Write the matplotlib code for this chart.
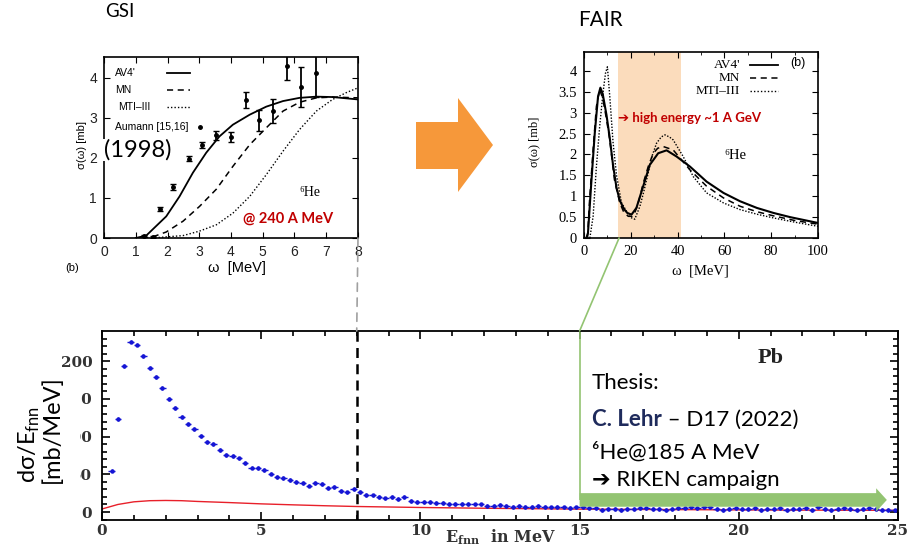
import numpy as np
import matplotlib
matplotlib.use("Agg")
import matplotlib.pyplot as plt
from matplotlib.patches import ConnectionPatch, Polygon, Rectangle

W, H = 917, 551

# ---- GSI panel: sigma(omega) in mb vs omega in MeV ----
gsi_av4_w = [1.0, 1.33, 1.96, 2.38, 2.8, 3.22, 3.64, 4.06, 4.59, 5.11, 5.64, 6.16, 6.69, 7.2, 8.0]
gsi_av4_s = [0.0, 0.06, 0.54, 1.04, 1.63, 2.13, 2.54, 2.83, 3.08, 3.28, 3.42, 3.5, 3.53, 3.52, 3.46]
gsi_mn_w = [1.2, 1.54, 1.96, 2.49, 3.01, 3.54, 4.06, 4.59, 5.11, 5.64, 6.16, 6.69, 7.2, 8.0]
gsi_mn_s = [0.0, 0.03, 0.15, 0.42, 0.79, 1.22, 1.79, 2.33, 2.75, 3.17, 3.39, 3.5, 3.52, 3.5]
gsi_mti_w = [1.5, 2.49, 3.0, 3.54, 4.06, 4.59, 5.11, 5.64, 6.16, 6.69, 7.2, 7.63, 8.0]
gsi_mti_s = [0.0, 0.06, 0.17, 0.33, 0.62, 1.04, 1.58, 2.17, 2.71, 3.17, 3.46, 3.63, 3.75]
aumann_w = [1.25, 1.55, 1.75, 2.17, 2.68, 3.09, 3.54, 3.99, 4.46, 4.88, 5.32, 5.77, 6.22, 6.69]
aumann_s = [0.05, 0.02, 0.73, 1.27, 1.98, 2.32, 2.56, 2.52, 3.44, 2.94, 3.17, 4.29, 3.78, 4.13]
aumann_err = [0.03, 0.02, 0.05, 0.07, 0.06, 0.08, 0.12, 0.13, 0.2, 0.26, 0.3, 0.35, 0.5, 0.6]

# ---- FAIR panel ----
fair_av4_w = [1.0, 1.7, 3.1, 4.6, 6.0, 7.0, 8.0, 9.6, 11.0, 12.4, 13.9, 15.3, 17.0, 18.5, 20.3,
              22.4, 25.3, 28.1, 31.7, 35.3, 39.6, 45.3, 52.4, 59.6, 66.7, 73.9, 81.0, 88.1, 100]
fair_av4_s = [0.0, 0.12, 1.31, 2.51, 3.39, 3.6, 3.45, 2.95, 2.4, 1.75, 1.2, 0.9, 0.7, 0.6, 0.56,
              0.72, 1.24, 1.75, 2.03, 2.1, 1.95, 1.71, 1.35, 1.08, 0.88, 0.72, 0.6, 0.5, 0.36]
fair_mn_w = [1.5, 2.4, 4.0, 5.3, 6.7, 8.0, 9.6, 11.0, 13.0, 15.3, 17.0, 18.9, 20.5, 21.7, 23.5,
             25.3, 27.5, 29.6, 31.5, 33.9, 38.1, 45.3, 52.4, 59.6, 66.7, 73.9, 81.0, 90.0, 100]
fair_mn_s = [0.0, 0.92, 2.2, 3.15, 3.55, 3.35, 2.85, 2.35, 1.4, 0.84, 0.62, 0.52, 0.52, 0.6, 0.9,
             1.31, 1.72, 2.03, 2.15, 2.19, 2.11, 1.63, 1.24, 0.96, 0.76, 0.63, 0.53, 0.42, 0.33]
fair_mti_w = [2.5, 3.9, 5.3, 6.7, 8.1, 9.2, 10.0, 11.0, 12.4, 13.9, 16.0, 19.6, 21.7, 23.9, 25.5,
              27.4, 29.0, 31.0, 33.0, 34.6, 36.5, 38.1, 42.4, 46.7, 52.4, 59.6, 66.7, 73.9, 81.0, 90.0, 100]
fair_mti_s = [0.0, 0.52, 1.71, 2.67, 3.47, 3.95, 4.1, 3.4, 2.3, 1.5, 0.85, 0.5, 0.45, 0.76, 1.1,
              1.55, 1.95, 2.27, 2.42, 2.47, 2.42, 2.35, 1.95, 1.47, 1.08, 0.84, 0.68, 0.57, 0.48, 0.38, 0.28]
fair_band = (14.5, 41.5)

# ---- Lehr thesis: Pb target, dsigma/dE_fnn in mb/MeV, 0.2 MeV bins from 0.2 MeV ----
fnn_counts = [55, 123, 194, 226, 222, 207, 191, 179, 164, 150, 138, 126, 117, 110, 101, 93, 90, 82, 76, 74,
              71, 65, 59, 58, 56, 51, 46, 45, 42, 40, 38, 35, 38, 37, 32, 33, 28, 26, 30, 27,
              23, 22, 20, 18, 20, 17, 20, 15, 13, 13, 13, 12, 12, 11, 11, 11, 11, 10, 10, 8,
              8, 9, 8, 7, 8, 7, 7, 8, 7, 6, 7, 6, 5, 6, 6, 5, 5, 3, 4, 4,
              3, 4, 4, 5, 5, 4, 4, 3, 4, 5, 5, 6, 5, 7, 6, 4, 3, 4, 5, 4,
              4, 5, 3, 4, 4, 5, 3, 4, 4, 5, 3, 6, 4, 3, 4, 5, 4, 3, 4, 5,
              4, 3, 3, 2]
bin_low, bin_w = 0.2, 0.2
red_e = [0, 0.5, 1, 1.5, 2, 2.5, 3, 4, 5, 6, 7, 8, 10, 12, 15, 18, 20, 22, 25]
red_y = [4, 10, 13.5, 15, 15.3, 15, 14, 12.5, 10.8, 9.5, 8.3, 7.3, 6, 5, 3.8, 3.2, 2.8, 2.5, 2.2]
gsi_cut = 8
fair_start = 15

orange = '#f6983a'
peach = '#fbdcbc'
green = '#93c472'
darkred = '#c00000'
navy = '#1f2b5c'

plt.rcParams['mathtext.fontset'] = 'custom'
plt.rcParams['mathtext.rm'] = 'Lato'
plt.rcParams['mathtext.bf'] = 'DejaVu Serif:bold'

SANS = 'Liberation Sans'
SERIF = 'Liberation Serif'
SLIDE = ['Lato', 'DejaVu Sans']


def px(x, y):
    return x / W, 1 - y / H


fig = plt.figure(figsize=(W / 100, H / 100), dpi=100)

# ---------------- GSI panel ----------------
axL = fig.add_axes([104 / W, 1 - 238 / H, 254 / W, 181 / H])
axL.plot(gsi_av4_w, gsi_av4_s, color='k', lw=1.3)
axL.plot(gsi_mn_w, gsi_mn_s, color='k', lw=1.1, ls=(0, (4, 3)))
axL.plot(gsi_mti_w, gsi_mti_s, color='k', lw=1.0, ls=(0, (1, 1.5)))
axL.errorbar(aumann_w, aumann_s, yerr=aumann_err, fmt='o', ms=2.5, color='k', elinewidth=1.3, capsize=2)
axL.set_xlim(0, 8)
axL.set_ylim(0, 4.52)
axL.set_xticks(range(0, 9))
axL.set_yticks(range(0, 5))
axL.tick_params(direction='in', top=True, right=True, length=4, labelsize=10, pad=5)
for lab in axL.get_xticklabels() + axL.get_yticklabels():
    lab.set_family(SANS)
    lab.set_color('#222222')
axL.set_ylabel('σ(ω) [mb]', family=SANS, fontsize=8)
axL.yaxis.set_label_coords(-0.067, 0.514)
axL.set_xlabel('ω  [MeV]', family=SANS, fontsize=10.5)
axL.xaxis.set_label_coords(0.524, -0.125)
for sp in axL.spines.values():
    sp.set_linewidth(1.2)

# gnuplot style key, text left and sample right
keys = [("AV4'", dict(ls='-', lw=1.3)), ('MN', dict(ls=(0, (4, 3)), lw=1.1)),
        ('MTI–III', dict(ls=(0, (1, 1.5)), lw=1.0))]
key_y = [0.91, 0.818, 0.724]
key_x = [0.043, 0.043, 0.055]
for (lab, st), ky, kx in zip(keys, key_y, key_x):
    axL.text(kx, ky, lab, transform=axL.transAxes, family=SANS, fontsize=7.5, va='center')
    axL.plot([0.248, 0.339], [ky, ky], transform=axL.transAxes, color='k', **st)
axL.text(0.043, 0.613, 'Aumann [15,16]', transform=axL.transAxes, family=SANS, fontsize=7.5, va='center')
axL.plot([0.378], [0.613], 'o', ms=2.5, color='k', transform=axL.transAxes)
axL.text(0.77, 0.25, '⁶He', transform=axL.transAxes, family=SERIF, fontsize=10, va='center')
axL.text(0.548, 0.105, '@ 240 A MeV', transform=axL.transAxes, family=SLIDE, fontsize=10.5,
         weight='bold', color=darkred, va='center')
fig.text(*px(104, 150), '(1998)', family=SLIDE, fontsize=17, va='center', ha='left',
         bbox=dict(fc='white', ec='none', pad=0.5))
fig.text(*px(65, 268), '(b)', family=SANS, fontsize=8, va='center')

# ---------------- FAIR panel ----------------
axR = fig.add_axes([584 / W, 1 - 238 / H, 234 / W, 186 / H])
axR.axvspan(*fair_band, color=peach, lw=0, zorder=0)
axR.plot(fair_av4_w, fair_av4_s, color='k', lw=1.5)
axR.plot(fair_mn_w, fair_mn_s, color='k', lw=1.1, ls=(0, (4, 3)))
axR.plot(fair_mti_w, fair_mti_s, color='k', lw=1.0, ls=(0, (1, 1.2)))
axR.set_xlim(0, 100)
axR.set_ylim(0, 4.455)
axR.set_xticks(range(0, 101, 20))
axR.set_xticks(range(0, 101, 10), minor=True)
axR.set_yticks(np.arange(0, 4.01, 0.5))
axR.set_yticklabels(['0', '0.5', '1', '1.5', '2', '2.5', '3', '3.5', '4'])
axR.tick_params(which='both', direction='in', top=True, right=True, labelsize=10.5, pad=5)
axR.tick_params(which='major', length=4)
axR.tick_params(which='minor', length=2.5)
for lab in axR.get_xticklabels() + axR.get_yticklabels():
    lab.set_family(SERIF)
axR.set_ylabel('σ(ω) [mb]', family=SERIF, fontsize=9)
axR.yaxis.set_label_coords(-0.188, 0.516)
axR.set_xlabel('ω  [MeV]', family=SERIF, fontsize=10.5)
axR.xaxis.set_label_coords(0.496, -0.14)
for sp in axR.spines.values():
    sp.set_linewidth(1.2)

key_y = [0.93, 0.86, 0.79]
for (lab, st), ky in zip(keys, key_y):
    axR.text(0.667, ky, lab, transform=axR.transAxes, family=SERIF, fontsize=9.5, va='center', ha='right')
    axR.plot([0.709, 0.829], [ky, ky], transform=axR.transAxes, color='k', **st)
axR.text(0.915, 0.94, '(b)', transform=axR.transAxes, family=SANS, fontsize=9, va='center', ha='center')
axR.text(0.6, 0.445, '⁶He', transform=axR.transAxes, family=SERIF, fontsize=10.5, va='center')
axR.text(0.145, 0.645, '➔ high energy ~1 A GeV', transform=axR.transAxes, family=SLIDE,
         fontsize=9.5, weight='bold', color=darkred, va='center')

# ---------------- Lehr spectrum ----------------
axB = fig.add_axes([102 / W, 1 - 520 / H, 796 / W, 189 / H])
e_centers = bin_low + bin_w / 2 + bin_w * np.arange(len(fnn_counts))
axB.plot(red_e, red_y, color='#e8202a', lw=1.0)
axB.errorbar(e_centers, fnn_counts, xerr=bin_w / 2, yerr=2.5, fmt='o', ms=2.2,
             color='#1515d5', elinewidth=1.0, capsize=0)
axB.axvline(gsi_cut, color='k', lw=1.8, ls=(0, (4, 2.5)))
axB.vlines(fair_start, 16, 240, color=green, lw=1.2)
axB.annotate('', xy=(24.65, 16), xytext=(fair_start, 16),
             arrowprops=dict(arrowstyle='simple,head_length=0.55,head_width=1.2,tail_width=0.7',
                             fc=green, ec='none', mutation_scale=14, shrinkA=0, shrinkB=0))
axB.set_xlim(0, 25)
axB.set_ylim(-10.6, 240)
axB.set_xticks(range(0, 26, 5))
axB.set_xticks(range(0, 26), minor=True)
axB.set_yticks(range(0, 201, 50))
axB.set_yticks(range(-10, 240, 10), minor=True)
axB.tick_params(which='both', direction='in', top=True, right=True, labelsize=11, width=1.2)
axB.tick_params(axis='x', pad=3)
axB.tick_params(axis='y', pad=7)
axB.tick_params(which='major', length=6)
axB.tick_params(which='minor', length=3.5)
for lab in axB.get_xticklabels() + axB.get_yticklabels():
    lab.set_family('DejaVu Serif')
    lab.set_weight('bold')
    lab.set_color('#333333')
axB.set_xlabel(r'E$_{\mathbf{fnn}}$  in MeV', family='DejaVu Serif', weight='bold', fontsize=11.5, color='#333333')
axB.xaxis.set_label_coords(0.5, -0.04)
for sp in axB.spines.values():
    sp.set_linewidth(1.3)
axB.text(0.84, 0.855, 'Pb', transform=axB.transAxes, family=SERIF, weight='bold', fontsize=16,
         ha='center', va='center', color='#222222')

# white text box of the slide covering the y labels
fig.add_artist(Rectangle(px(0, 500), 80 / W, 128 / H, transform=fig.transFigure,
                         fc='white', ec='none', zorder=2))
fig.text(*px(29, 483), r'dσ/E$_{\mathrm{fnn}}$', family=SLIDE, fontsize=17, rotation=90,
         ha='center', va='bottom', zorder=3)
fig.text(*px(52, 483), '[mb/MeV]', family=SLIDE, fontsize=17, rotation=90,
         ha='center', va='bottom', zorder=3)

# thesis note
fig.text(*px(592, 383), 'Thesis:', family=SLIDE, fontsize=16, va='center')
t1 = fig.text(*px(592, 420), 'C. Lehr', family=SLIDE, fontsize=16, weight='bold', color=navy, va='center')
bb = t1.get_window_extent(renderer=fig.canvas.get_renderer())
fig.text(bb.x1 / W, 1 - 420 / H, ' – D17 (2022)', family=SLIDE, fontsize=16, va='center')
fig.text(*px(592, 453), '⁶He@185 A MeV', family=SLIDE, fontsize=16, va='center')
fig.text(*px(592, 480), '➔ RIKEN campaign', family=SLIDE, fontsize=16, va='center')

# slide decorations
fig.text(*px(105, 11.5), 'GSI', family=SLIDE, fontsize=13.5, va='center')
fig.text(*px(578, 20.5), 'FAIR', family=SLIDE, fontsize=15, va='center')
fig.add_artist(Polygon([px(416, 122), px(458, 122), px(458, 98), px(493, 145),
                        px(458, 192), px(458, 169), px(416, 169)],
                       closed=True, transform=fig.transFigure, fc=orange, ec='none'))
fig.add_artist(ConnectionPatch(xyA=(gsi_cut, 0), coordsA=axL.transData,
                               xyB=(gsi_cut, 240), coordsB=axB.transData,
                               color='#a0a0a0', lw=1.2, ls=(0, (5, 4))))
fig.add_artist(ConnectionPatch(xyA=(fair_start, 0), coordsA=axR.transData,
                               xyB=(fair_start, 240), coordsB=axB.transData,
                               color=green, lw=1.2))

fig.savefig('out.png', dpi=100)
